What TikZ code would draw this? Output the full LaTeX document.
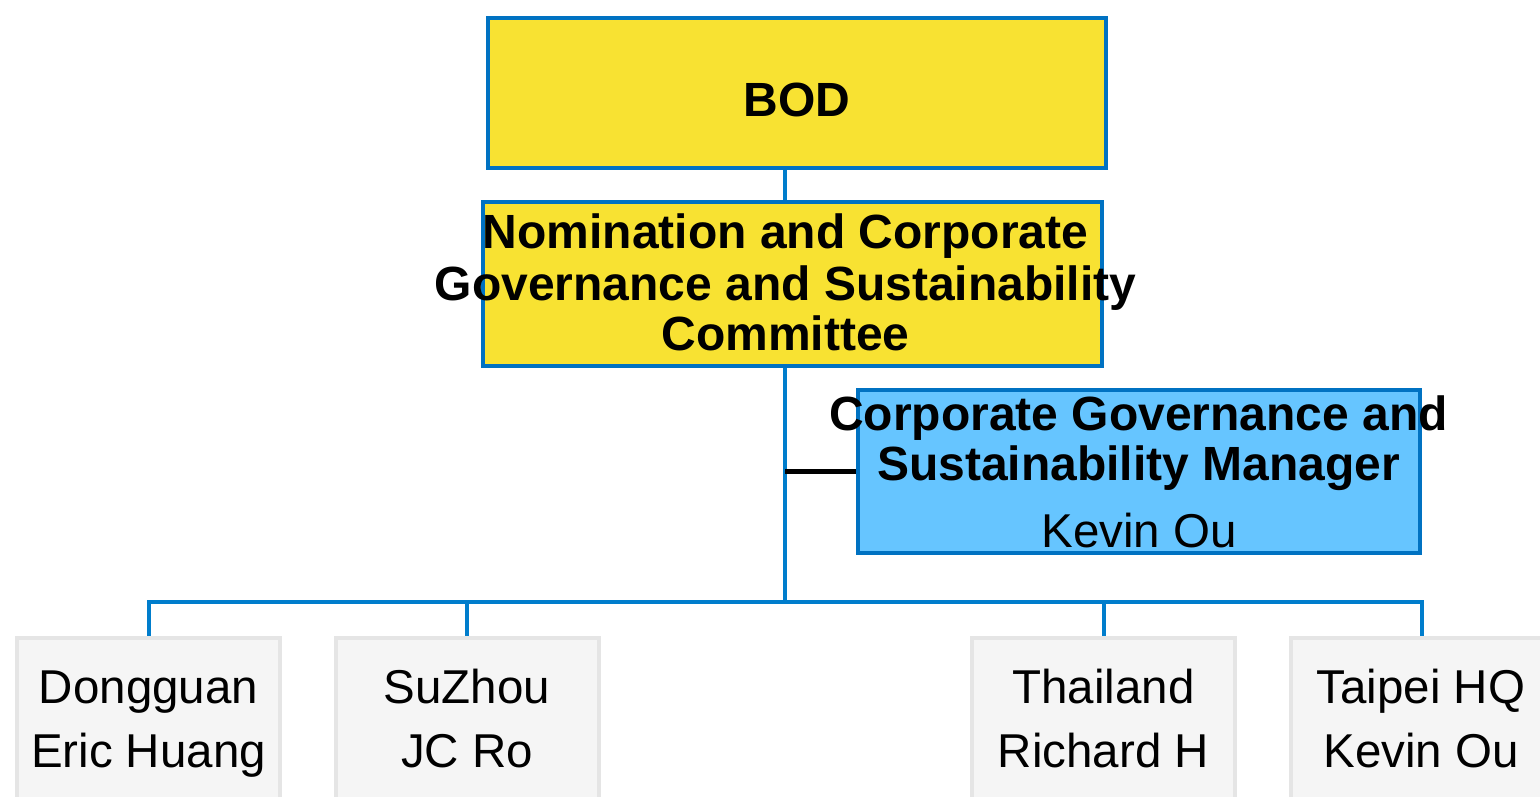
\documentclass[tikz,border=0pt]{standalone}
\usepackage{fontspec}
\setmainfont{Liberation Sans}
\definecolor{bblue}{RGB}{0,114,194}
\definecolor{lblue}{RGB}{0,125,204}
\definecolor{yfill}{RGB}{248,226,50}
\definecolor{cfill}{RGB}{102,197,255}
\definecolor{gfill}{RGB}{245,245,245}
\definecolor{gline}{RGB}{229,229,229}
\begin{document}
\begin{tikzpicture}[x=1pt,y=-1pt,
  ybox/.style={draw=bblue,line width=4pt,fill=yfill,inner sep=0pt},
  mbox/.style={draw=bblue,line width=4pt,fill=cfill,inner sep=0pt},
  gbox/.style={draw=gline,line width=4pt,fill=gfill,inner sep=0pt,minimum width=263pt,minimum height=200pt},
  conn/.style={draw=lblue,line width=4pt},
  bt/.style={anchor=base,inner sep=0pt,font=\fontsize{48}{52}\selectfont\bfseries},
  rt/.style={anchor=base,inner sep=0pt,font=\fontsize{47.5}{52}\selectfont}]
\useasboundingbox (0,0) rectangle (1540,797);
\clip (0,0) rectangle (1540,797);
\fill[white] (0,0) rectangle (1540,797);
% boxes
\node[ybox,minimum width=618pt,minimum height=150pt] (bod) at (797,93) {};
\node[ybox,minimum width=619pt,minimum height=164pt] (com) at (792.5,284) {};
\node[mbox,minimum width=562pt,minimum height=163pt] (mgr) at (1139,471.5) {};
\node[gbox] (dg) at (148.5,738) {};
\node[gbox] (sz) at (467,738) {};
\node[gbox] (th) at (1103.5,738) {};
\node[gbox] (tp) at (1422,738) {};
% connectors
\coordinate (trunk) at (785,602);
\draw[conn] (bod.south -| trunk) -- (com.north -| trunk);
\draw[conn] (com.south -| trunk) -- (trunk);
\draw[black,line width=4.5pt] (trunk |- mgr.west) -- (mgr.west);
\draw[conn] (trunk) -| (dg.north);
\draw[conn] (trunk) -| (sz.north);
\draw[conn] (trunk) -| (th.north);
\draw[conn] (trunk) -| (tp.north);
% texts
\node[bt] (bodt) at (797,117) {BOD};
\node[bt] (com1) at (785.5,248) {Nomination and Corporate};
\node[bt] (com2) at (785.5,300) {Governance and Sustainability};
\node[bt] (com3) at (785.5,350) {Committee};
\node[bt] (mgr1) at (1138.5,430) {Corporate Governance and};
\node[bt] (mgr2) at (1138.5,480) {Sustainability Manager};
\node[rt] (mgr3) at (1139,547) {Kevin Ou};
\node[rt] (dg1) at (148.5,703) {Dongguan};
\node[rt] (dg2) at (148.5,767) {Eric Huang};
\node[rt] (sz1) at (467,703) {SuZhou};
\node[rt] (sz2) at (467,767) {JC Ro};
\node[rt] (th1) at (1103.5,703) {Thailand};
\node[rt] (th2) at (1103.5,767) {Richard H};
\node[rt] (tp1) at (1421,703) {Taipei HQ};
\node[rt] (tp2) at (1421,767) {Kevin Ou};
\end{tikzpicture}
\end{document}
